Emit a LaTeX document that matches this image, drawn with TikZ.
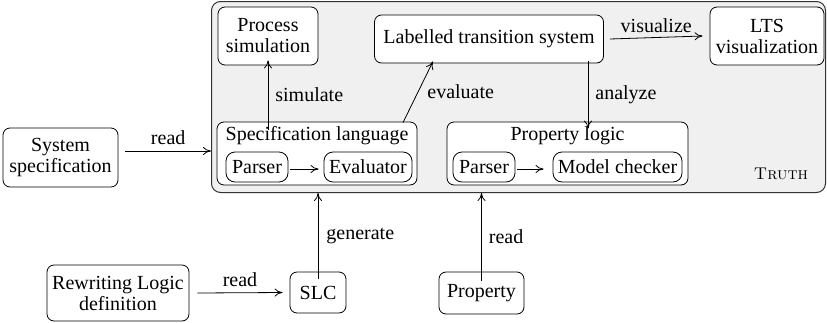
\documentclass[tikz,border=0pt]{standalone}
\usepackage{fontspec}
\setmainfont{Liberation Serif}
\usetikzlibrary{arrows.meta}
\tikzset{
  box/.style={draw, rounded corners=7pt, line width=0.8pt, fill=white, inner sep=0pt, align=center,
              font=\fontsize{20}{23}\selectfont},
  inbox/.style={box, rounded corners=9pt},
  lbl/.style={font=\fontsize{20}{23}\selectfont, inner sep=0pt},
  arr/.style={line width=0.8pt, -{To[length=8pt,width=8pt]}},
}
\begin{document}
\begin{tikzpicture}[x=1pt,y=-1pt]
\useasboundingbox (0,0) rectangle (827,322);
% tool container
\node[draw=black!80, line width=1pt, rounded corners=9pt, fill=black!6, minimum width=614pt, minimum height=191pt, inner sep=0pt] (truth) at (518.5,97) {};
\node[inner sep=0pt, font=\fontfamily{lmr}\fontsize{17}{20}\selectfont] (tname) at (781,174) {\textsc{Truth}};

% inner components
\node[box, minimum width=100pt, minimum height=58pt] (psim) at (268,36) {Process\\[-2pt]simulation};
\node[box, minimum width=229pt, minimum height=48pt] (lts) at (489,39) {Labelled transition system};
\node[box, minimum width=114pt, minimum height=58pt] (ltsv) at (767,36) {LTS\\[-2pt]visualization};

\node[box, minimum width=200pt, minimum height=63pt] (spec) at (317,153.5) {};
\node[lbl] (spect) at (317,136) {Specification language};
\node[inbox, minimum width=62pt, minimum height=30pt] (par1) at (257,167) {Parser};
\node[inbox, minimum width=88pt, minimum height=30pt] (eval) at (368,167) {Evaluator};

\node[box, minimum width=241pt, minimum height=63pt] (plog) at (567.5,153.5) {};
\node[lbl] (plogt) at (567.5,136) {Property logic};
\node[inbox, minimum width=62pt, minimum height=30pt] (par2) at (484,167) {Parser};
\node[inbox, minimum width=129pt, minimum height=30pt] (mc) at (617.5,167) {Model checker};

% external inputs
\node[box, minimum width=115pt, minimum height=59pt] (sys) at (60.5,157.5) {System\\[-2pt]specification};
\node[box, minimum width=142pt, minimum height=56pt] (rld) at (118,293) {Rewriting Logic\\[-2pt]definition};
\node[box, minimum width=56pt, minimum height=41pt] (slc) at (318,292.5) {SLC};
\node[box, minimum width=85pt, minimum height=42pt] (prop) at (481.5,293) {Property};

% connectors inside the container
\draw[arr] ([xshift=2pt,yshift=-2pt]par1.east) -- ([xshift=-5pt,yshift=-2pt]eval.west);
\draw[arr] ([xshift=2pt,yshift=-2pt]par2.east) -- ([xshift=-9pt,yshift=-2pt]mc.west);
\draw[arr] ([yshift=-8pt]spec.north -| psim) -- ([yshift=5pt]psim.south) node[lbl, midway, right=7pt] {simulate};
\draw[arr] ([xshift=86pt,yshift=-1pt]spec.north) -- ([xshift=-56pt,yshift=2pt]lts.south) node[lbl, pos=0.5, right=9pt] {evaluate};
\draw[arr] ([xshift=99pt,yshift=2pt]lts.south) -- ([xshift=99pt,yshift=-7pt]lts.south |- plog.north) node[lbl, midway, right=7pt] {analyze};
\draw[arr] ([xshift=6pt]lts.east) -- ([xshift=-7pt]ltsv.west) node[lbl, midway, above=4pt] {visualize};

% connectors from outside
\draw[arr] ([xshift=7pt,yshift=6.5pt]sys.east) -- ([yshift=6.5pt]sys.east -| truth.west) node[lbl, midway, above=6pt] {read};
\draw[arr] ([yshift=-7pt]slc.north) -- (slc.north |- truth.south) node[lbl, midway, right=8pt] {generate};
\draw[arr] ([yshift=-9pt]prop.north) -- (prop.north |- truth.south) node[lbl, midway, right=7pt] {read};
\draw[arr] ([xshift=8pt]rld.east) -- ([xshift=-7pt]slc.west) node[lbl, midway, above=6pt] {read};
\end{tikzpicture}
\end{document}
